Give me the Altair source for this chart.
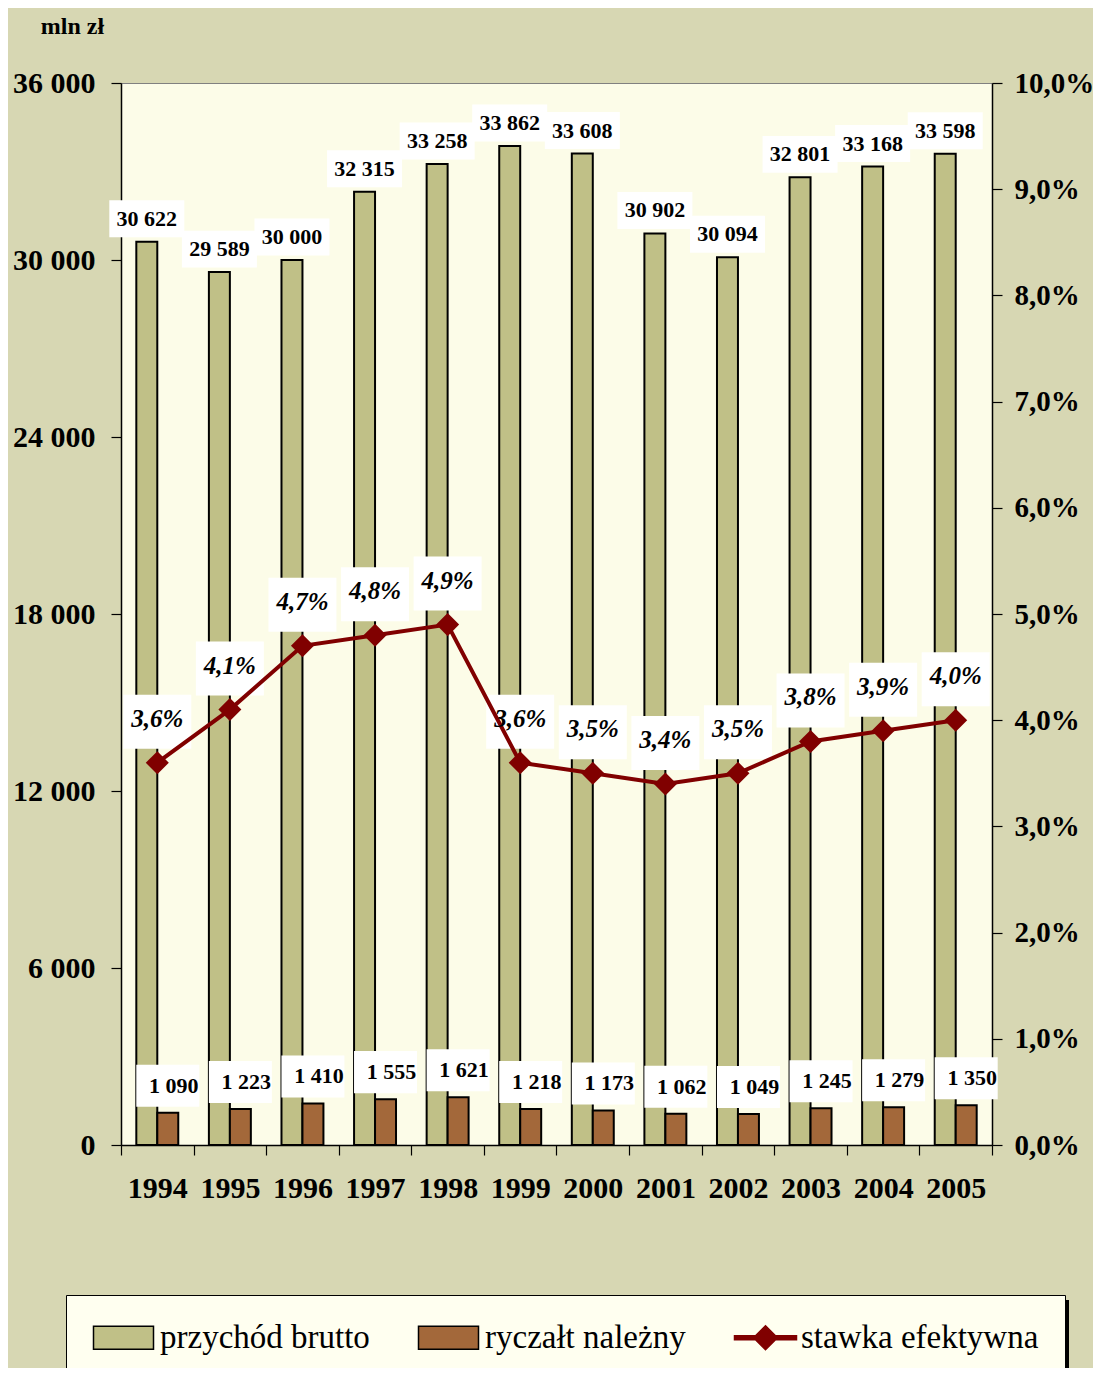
import altair as alt
import pandas as pd

# ---------------- data ----------------
years = ["1994", "1995", "1996", "1997", "1998", "1999",
         "2000", "2001", "2002", "2003", "2004", "2005"]
revenue = [30622, 29589, 30000, 32315, 33258, 33862,
           33608, 30902, 30094, 32801, 33168, 33598]
lump_sum = [1090, 1223, 1410, 1555, 1621, 1218,
            1173, 1062, 1049, 1245, 1279, 1350]
rate = [3.6, 4.1, 4.7, 4.8, 4.9, 3.6, 3.5, 3.4, 3.5, 3.8, 3.9, 4.0]
series = ["przychód brutto", "ryczałt należny", "stawka efektywna"]
left_ticks = [0, 6000, 12000, 18000, 24000, 30000, 36000]
right_ticks = [0, 1, 2, 3, 4, 5, 6, 7, 8, 9, 10]

# ---------------- style ----------------
FONT = "Liberation Serif"
BG = "#d7d7b3"
PLOT_BG = "#fcfce8"
KHAKI = "#c0c087"
BROWN = "#a3683a"
RED = "#800000"

RECT_SYM = "M-1.5,-1.15H4.5V1.15H-1.5Z"
LINE_SYM = ("M-1.5,-0.2H0.6L1.6,-1.2L2.6,-0.2H4.7V0.2H2.6L1.6,1.2L0.6,0.2H-1.5Z")
BOX_BIG = "M-1,-0.493H1V0.493H-1Z"     # 75 x 37
BOX_SMALL = "M-1,-0.667H1V0.667H-1Z"   # 63 x 42
BOX_PCT = "M-1,-0.794H1V0.794H-1Z"     # 68 x 54

rev_df = pd.DataFrame({"year": years, "value": revenue, "series": series[0]})
lump_df = pd.DataFrame({"year": years, "value": lump_sum, "series": series[1]})
bar_df = pd.concat([rev_df, lump_df], ignore_index=True)
rate_df = pd.DataFrame({"year": years, "rate": rate, "series": series[2]})
legend_df = pd.DataFrame({"series": series})

# ---------------- scales / encodings ----------------
x_scale = alt.Scale(domain=years, paddingInner=0, paddingOuter=0)
xo_scale = alt.Scale(domain=series[:2], paddingInner=0, paddingOuter=0.73)
yl_scale = alt.Scale(domain=[0, 36000], nice=False, zero=True)
yr_scale = alt.Scale(domain=[0, 10], nice=False, zero=True)
fill_scale = alt.Scale(domain=series, range=[KHAKI, BROWN, RED])
stroke_scale = alt.Scale(domain=series, range=["black", "black", RED])
shape_scale = alt.Scale(domain=series, range=[RECT_SYM, RECT_SYM, LINE_SYM])

x_axis = alt.Axis(title=None, labelAngle=0, labelFont=FONT, labelFontSize=30,
                  labelFontWeight="bold", labelColor="black", labelPadding=18,
                  tickBand="extent", tickSize=10, tickColor="black", tickWidth=1.2,
                  domainColor="black", domainWidth=1.5)
yl_axis = alt.Axis(values=left_ticks,
                   labelExpr="replace(format(datum.value, ','), ',', ' ')",
                   labelFont=FONT, labelFontSize=30, labelFontWeight="bold",
                   labelColor="black", labelPadding=16, tickSize=10,
                   tickColor="black", tickWidth=1.2, domainColor="black",
                   domainWidth=1.5, grid=False,
                   title="mln zł", titleAngle=0, titleX=-49, titleY=-57,
                   titleAlign="center", titleBaseline="middle", titleFont=FONT,
                   titleFontSize=24, titleFontWeight="bold", titleColor="black")
yr_axis = alt.Axis(orient="right", values=right_ticks,
                   labelExpr="replace(format(datum.value, '.1f'), '.', ',') + '%'",
                   labelFont=FONT, labelFontSize=29, labelFontWeight="bold",
                   labelColor="black", labelPadding=12, tickSize=10,
                   tickColor="black", tickWidth=1.2, domainColor="black",
                   domainWidth=1.5, grid=False, title=None)

legend_def = alt.Legend(orient="none", legendX=-55, legendY=1212,
                        direction="horizontal", fillColor="#fffff0",
                        strokeColor="black", padding=26,
                        labelFont=FONT, labelFontSize=33, labelColor="black",
                        labelLimit=500, labelOffset=35, symbolSize=400,
                        symbolStrokeWidth=1.5, symbolOpacity=1,
                        columnPadding=45)

X = alt.X("year:N", scale=x_scale, axis=x_axis)
Xp = alt.X("year:N", scale=x_scale)
XO = alt.XOffset("series:N", scale=xo_scale)
YL = alt.Y("value:Q", scale=yl_scale, axis=yl_axis)
YLp = alt.Y("value:Q", scale=yl_scale)
YR = alt.Y("rate:Q", scale=yr_scale, axis=yr_axis)
YRp = alt.Y("rate:Q", scale=yr_scale)

num_label = "replace(format(datum.value, ','), ',', ' ')"
pct_label = "replace(format(datum.rate, '.1f'), '.', ',') + '%'"

# ---------------- left group (bars) ----------------
bars = alt.Chart(bar_df).mark_bar(strokeWidth=2).encode(
    x=X, xOffset=XO, y=YL,
    fill=alt.Fill("series:N", scale=fill_scale, title=None, legend=legend_def),
    stroke=alt.Stroke("series:N", scale=stroke_scale, title=None, legend=legend_def),
)

rev_box = alt.Chart(rev_df).mark_point(
    shape=BOX_BIG, size=5625, filled=True, fill="white", opacity=1,
    strokeWidth=0, yOffset=-23).encode(x=Xp, xOffset=XO, y=YLp)
rev_txt = alt.Chart(rev_df).transform_calculate(lbl=num_label).mark_text(
    font=FONT, fontSize=22, fontWeight="bold", color="black",
    baseline="middle", dy=-23).encode(x=Xp, xOffset=XO, y=YLp, text="lbl:N")

lump_box = alt.Chart(lump_df).mark_point(
    shape=BOX_SMALL, size=3969, filled=True, fill="white", opacity=1,
    strokeWidth=0, yOffset=-27, xOffset=6).encode(x=Xp, xOffset=XO, y=YLp)
lump_txt = alt.Chart(lump_df).transform_calculate(lbl=num_label).mark_text(
    font=FONT, fontSize=22, fontWeight="bold", color="black",
    baseline="middle", dy=-27, dx=6).encode(x=Xp, xOffset=XO, y=YLp, text="lbl:N")

left = alt.layer(bars, rev_box, lump_box, rev_txt, lump_txt)

# ---------------- right group (rate line) ----------------
pct_box = alt.Chart(rate_df).mark_point(
    shape=BOX_PCT, size=4624, filled=True, fill="white", opacity=1,
    strokeWidth=0, yOffset=-41).encode(x=Xp, y=YR)
line = alt.Chart(rate_df).mark_line(color=RED, strokeWidth=4).encode(x=Xp, y=YRp)
pts = alt.Chart(rate_df).mark_point(
    shape="diamond", size=530, filled=True, fill=RED, opacity=1,
    strokeWidth=0).encode(x=Xp, y=YRp)
pct_txt = alt.Chart(rate_df).transform_calculate(lbl=pct_label).mark_text(
    font=FONT, fontSize=25, fontWeight="bold", fontStyle="italic",
    color="black", baseline="middle", dy=-44).encode(x=Xp, y=YRp, text="lbl:N")
legend_layer = alt.Chart(legend_df).mark_point(opacity=0, filled=True).encode(
    x=alt.value(0), y=alt.value(0),
    fill=alt.Fill("series:N", scale=fill_scale, title=None, legend=legend_def),
    stroke=alt.Stroke("series:N", scale=stroke_scale, title=None, legend=legend_def),
    shape=alt.Shape("series:N", scale=shape_scale, title=None, legend=legend_def),
)
# drop shadow on the right edge of the legend frame (decoration)
shadow = alt.Chart(legend_df).mark_rect(color="black").encode(
    x=alt.value(942), x2=alt.value(948), y=alt.value(1217), y2=alt.value(1300))

right = alt.layer(pct_box, line, pts, pct_txt, legend_layer, shadow)

chart = alt.layer(left, right).resolve_scale(y="independent").properties(
    width=871, height=1062,
    autosize=alt.AutoSizeParams(type="none"),
    padding={"left": 113, "top": 75, "right": 101, "bottom": 223},
).configure(background=BG, font=FONT).configure_view(
    fill=PLOT_BG, stroke="#808080", strokeWidth=1)

chart.save("out.html", embed_options={"renderer": "svg", "actions": False})
